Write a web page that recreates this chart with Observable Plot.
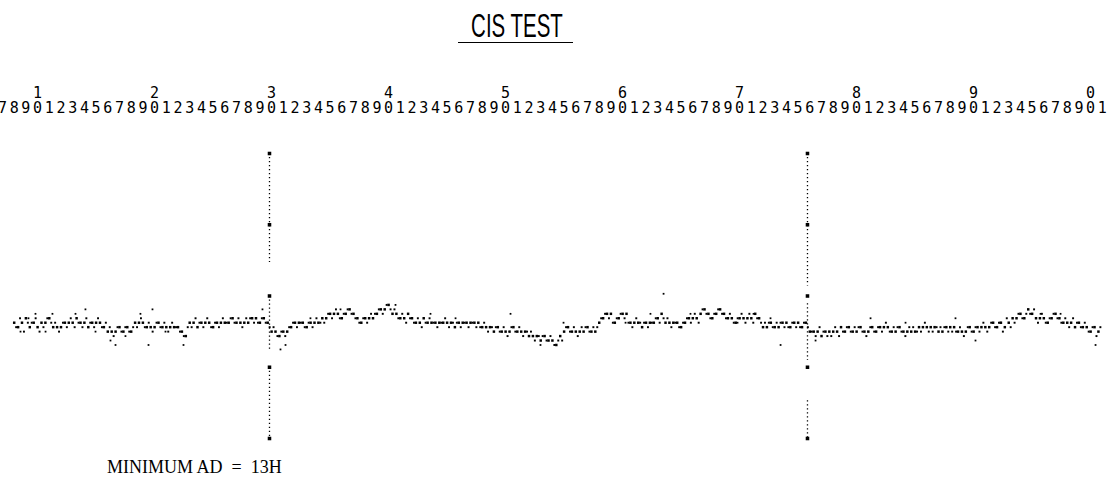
<!DOCTYPE html>
<html>
<head>
<meta charset="utf-8">
<script src="https://cdn.jsdelivr.net/npm/d3@7"></script>
<script src="https://cdn.jsdelivr.net/npm/@observablehq/plot@0.6"></script>
<style>
  html, body { margin: 0; padding: 0; background: #fff; }
  #page { position: relative; width: 1114px; height: 481px; overflow: hidden; background: #fff; }
  #title { position: absolute; left: 367px; top: 10px; width: 300px; height: 33px;
           text-align: center; line-height: 32px; }
  #title span { display: inline-block; font-family: "Liberation Sans", Arial, sans-serif;
           font-size: 33px; transform: scaleX(0.62); transform-origin: center; white-space: nowrap; color: #000; }
  #underline { position: absolute; left: 458px; top: 42px; width: 115px; height: 0;
           border-top: 1.5px solid #000; }
  #chart { position: absolute; left: 0; top: 60px; }
  #foot { position: absolute; left: 107px; top: 458px; font-family: "Liberation Serif", "Times New Roman", serif;
          font-size: 18px; line-height: 19px; color: #000; white-space: pre; }
</style>
</head>
<body>
<div id="page">
  <div id="title"><span>CIS TEST</span></div>
  <div id="underline"></div>
  <div id="chart"></div>
  <div id="foot">MINIMUM AD  =  13H</div>
</div>
<script>
// ---- Data -------------------------------------------------------------
// Ruler: character columns printed across the top (ones digits), tens digits above every 10th column
const rulerFirstColumn = 7;
const rulerLastColumn = 101;
const decadeColumns = [10, 20, 30, 40, 50, 60, 70, 80, 90, 100];
const decadeLabels  = ["1", "2", "3", "4", "5", "6", "7", "8", "9", "0"];

// Y reference ticks (AD value) drawn on the two marker lines
const adTicks = [0, 64, 128, 192, 256];

// Marker (boundary) lines, in ruler columns, and their dotted stretches (AD from, to)
const markerColumns = [29.82, 75.8];
const markerSegFrom = [[256, 128, 64], [256, 121, 34]];
const markerSegTo   = [[158, 79, 0],   [137, 70, 0]];

// CIS trace: AD value read every 1/3 column, starting at column 8
const traceStartColumn = 8;
const traceStep = 1 / 3;
const traceAD = [
  // columns 8–18
  104,100,104,108,100,104,100,104,104,108,100,100,100,104,104,104,108,104,104,100,104,104,104,100,96,96,96,100,96,100,
  // 18–28
  96,104,104,104,100,100,100,104,100,100,100,100,100,96,92,104,104,100,104,104,104,100,104,104,104,104,108,104,104,104,
  // 28–38
  104,108,108,104,108,104,96,96,92,96,96,100,104,104,104,100,104,104,104,108,108,112,112,112,108,112,116,112,108,104,
  // 38–48
  108,108,108,112,116,116,120,112,112,108,108,112,108,104,104,108,104,104,104,104,104,104,104,100,104,104,104,104,104,104,
  // 48–58
  100,100,100,96,100,96,96,96,100,96,96,96,92,92,92,88,92,88,88,84,92,96,100,96,96,96,96,100,96,96,
  // 58–68
  104,108,112,112,104,108,112,112,104,104,104,100,104,104,104,108,112,104,104,104,104,100,104,108,108,108,112,116,112,108,
  // 68–78
  112,116,112,108,108,104,108,108,108,108,112,108,100,100,104,100,100,104,104,100,104,104,100,104,96,96,96,92,96,96,
  // 78–88
  96,96,100,96,100,96,96,100,96,96,100,96,100,100,100,96,96,100,96,96,96,96,100,100,100,100,100,96,96,100,
  // 88–98
  100,100,96,96,96,100,96,100,100,100,100,104,100,104,100,104,108,108,112,108,116,112,108,108,108,104,108,112,108,104,
  // 98–101
  104,104,100,104,100,100,96,100,96
];
// second reading of each sample, taken half a step later (the band's other row of dots)
const traceADb = [
  100,108,96,104,104,108,96,100,108,104,104,96,104,100,108,100,104,100,108,104,100,108,100,104,100,92,100,96,100,96,
  100,100,108,100,104,96,104,100,104,96,104,100,96,92,100,100,108,104,100,108,100,104,100,108,104,108,104,108,100,108,
  108,104,104,108,104,100,100,92,96,92,100,104,100,104,100,104,100,108,104,104,112,108,116,108,112,116,112,108,104,108,
  104,112,112,116,112,120,116,116,108,112,104,108,104,108,100,104,108,104,100,104,108,100,104,104,100,104,100,104,100,100,
  104,96,100,100,96,100,92,100,96,100,92,96,96,88,92,92,88,92,84,88,88,100,96,100,92,100,100,96,100,100,
  108,112,108,104,108,112,108,104,100,108,104,104,100,104,108,104,108,108,100,104,100,104,108,104,112,104,116,112,108,112,
  116,112,108,112,104,108,112,104,112,104,108,104,104,104,100,104,104,100,100,104,100,100,104,100,96,92,100,96,92,92,
  100,92,96,100,96,100,100,96,92,100,96,100,96,104,96,100,100,96,92,100,100,96,96,104,96,96,100,100,100,96,
  96,96,100,92,100,96,100,96,104,96,104,100,104,96,108,100,104,112,108,112,112,116,104,112,104,108,112,108,104,108,
  100,108,104,100,104,96,100,92,100
];

// Scattered outlier dots (column, AD)
const noiseColumn = [8.54, 9.22, 9.82, 10.68, 11.27, 13.24, 14.09, 14.95, 16.23, 16.66, 17.51, 18.79, 19.48, 19.82,
  20.93, 22.47, 29.22, 30.76, 31.19, 33.32, 35.89, 40.59, 43.58, 45.72, 50.42, 52.98, 54.95, 60.25, 62.38, 63.5,
  65.8, 69.82, 71.19, 72.64, 73.5, 76.49, 81.19, 84.18, 88.45, 90.16, 92.3, 95.72, 97.43, 100.42];
const noiseAD = [96, 108, 112, 96, 112, 112, 116, 96, 88, 84, 92, 112, 84, 116,
  96, 84, 116, 80, 84, 108, 116, 120, 112, 108, 112, 84, 104, 104, 112, 130,
  112, 104, 112, 108, 84, 88, 108, 104, 108, 88, 104, 112, 112, 84];

// ---- Build tables -----------------------------------------------------
const rulerColumns = d3.range(rulerFirstColumn, rulerLastColumn + 1);
const decades = decadeColumns.map((c, i) => ({col: c, label: decadeLabels[i]}));
const trace = traceAD.map((v, i) => ({col: traceStartColumn + i * traceStep, ad: v}));
const traceB = traceADb.map((v, i) => ({col: traceStartColumn + (i + 0.5) * traceStep, ad: v}));
const noise = noiseColumn.map((c, i) => ({col: c, ad: noiseAD[i]}));
const segments = markerColumns.flatMap((c, j) =>
  markerSegFrom[j].map((a, k) => ({col: c, y1: a, y2: markerSegTo[j][k]})));
const tickDots = markerColumns.flatMap(c => adTicks.map(t => ({col: c, ad: t})));

const rulerFont = "DejaVu Sans Mono, monospace";

const chart = Plot.plot({
  width: 1114,
  height: 390,
  marginLeft: 0,
  marginRight: 0,
  marginTop: 93,
  marginBottom: 12,
  x: {domain: [6.83, 102.04], axis: null},
  y: {domain: [0, 256], axis: null},
  style: {background: "white", color: "black", overflow: "visible"},
  marks: [
    // ruler: ones digits
    Plot.text(rulerColumns, {x: d => d, text: d => String(d % 10), frameAnchor: "top", dy: -51,
      fontFamily: rulerFont, fontSize: 15, fill: "black"}),
    // ruler: tens digits
    Plot.text(decades, {x: "col", text: "label", frameAnchor: "top", dy: -66,
      fontFamily: rulerFont, fontSize: 15, fill: "black"}),
    // dotted marker lines
    Plot.ruleX(segments, {x: "col", y1: "y1", y2: "y2", stroke: "black", strokeWidth: 1.3, strokeDasharray: "1.3,2.7"}),
    // tick dots on marker lines
    Plot.dot(tickDots, {x: "col", y: "ad", symbol: "square", r: 2, fill: "black", stroke: null}),
    // outliers
    Plot.dot(noise, {x: "col", y: "ad", symbol: "square", r: 1, fill: "black", stroke: null}),
    // second row of trace dots
    Plot.dot(traceB, {x: "col", y: "ad", symbol: "square", r: 1.1, fill: "black", stroke: null}),
    // main trace
    Plot.dot(trace, {x: "col", y: "ad", symbol: "square", r: 1.4, fill: "black", stroke: null})
  ]
});
document.getElementById("chart").appendChild(chart);
</script>
</body>
</html>
